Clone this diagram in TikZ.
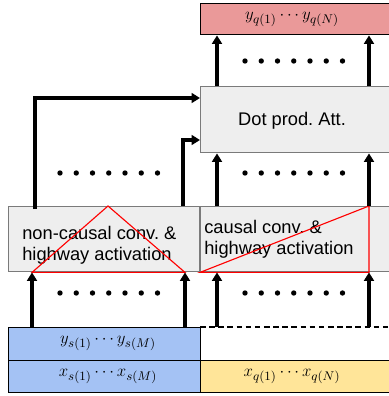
\documentclass[tikz,border=0pt]{standalone}
\usepackage{amsmath,amssymb}
\usepackage{fontspec}
\setsansfont{Liberation Sans}
\usepackage{xcolor}
\usepackage{tikz}
\usetikzlibrary{calc,arrows.meta}
\definecolor{outred}{HTML}{EA9999}
\definecolor{layergray}{HTML}{EEEEEE}
\definecolor{layeredge}{HTML}{7A7A7A}
\definecolor{srcblue}{HTML}{A4C2F4}
\definecolor{qryyellow}{HTML}{FFE599}
\definecolor{tri}{HTML}{FF0000}
\tikzset{
  box/.style={draw=black, line width=1pt, inner sep=0pt, anchor=north west},
  layer/.style={box, draw=layeredge, fill=layergray},
  arr/.style={draw=black, line width=2.6pt, -{Triangle[length=6pt, width=7pt]}},
  rf/.style={draw=tri, line width=0.8pt, line join=miter},
  lab/.style={font=\sffamily\fontsize{13}{15}\selectfont, align=left, inner sep=0pt},
  mlab/.style={font=\fontsize{13}{15}\selectfont, inner sep=0pt},
}
\newcommand{\dotrow}[2]{%
  \foreach \k in {0,...,6} \fill (#1+\k*16.25,#2) circle (2.7);}

\begin{document}
\begin{tikzpicture}[x=0.025cm, y=-0.025cm]
  \useasboundingbox (0,0) rectangle (389,396);
  \clip (0,0) rectangle (389,396);
  % output and attention
  \node[box, fill=outred, minimum width=200*0.025cm, minimum height=31*0.025cm] (out) at (200,3) {};
  \node[mlab] (outtext) at (292,19) {$y_{q(1)}\cdots y_{q(N)}$};
  \node[layer, minimum width=200*0.025cm, minimum height=66*0.025cm] (att) at (200,86) {};
  \node[lab] (atttext) at (292,121) {Dot prod.\ Att.};
  % conv layers
  \node[layer, minimum width=191*0.025cm, minimum height=65*0.025cm] (lconv) at (8,206) {};
  \node[lab, anchor=west] (lconvtext) at (22,245) {non-causal conv.\ \&\\highway activation};
  \node[layer, minimum width=200*0.025cm, minimum height=65*0.025cm] (rconv) at (200,206) {};
  \node[lab, anchor=west] (rconvtext) at (204,239) {causal conv.\ \&\\highway activation};
  % receptive fields
  \draw[rf] ($(lconv.south west)+(24,0)$) -- ($(lconv.north west)+(100,0)$)
    -- ($(lconv.south west)+(177,0)$) -- cycle;
  \draw[rf] (rconv.south west) -- ($(rconv.north west)+(169,0)$)
    -- ($(rconv.south west)+(169,0)$) -- cycle;
  % inputs
  \node[box, fill=srcblue, minimum width=192*0.025cm, minimum height=33*0.025cm] (ys) at (8,327) {};
  \node[mlab] (ystext) at (108,343) {$y_{s(1)}\cdots y_{s(M)}$};
  \node[box, fill=srcblue, minimum width=192*0.025cm, minimum height=32*0.025cm] (xs) at (8,360) {};
  \node[mlab] (xstext) at (108,376) {$x_{s(1)}\cdots x_{s(M)}$};
  \node[box, fill=qryyellow, minimum width=200*0.025cm, minimum height=32*0.025cm] (xq) at (200,360) {};
  \node[mlab] (xqtext) at (292,376) {$x_{q(1)}\cdots x_{q(N)}$};
  \coordinate (qtop) at (200,327);
  \draw[line width=1pt, dash pattern=on 4pt off 2.5pt] (qtop) -- ++(200,0);
  % connections
  \draw[arr] ($(ys.north west)+(24,0)$) -- ($(lconv.south west)+(24,0)$);
  \draw[arr] ($(ys.north west)+(177,0)$) -- ($(lconv.south west)+(177,0)$);
  \draw[arr] ($(qtop)+(17,0)$) -- ($(rconv.south west)+(17,0)$);
  \draw[arr] ($(qtop)+(169,0)$) -- ($(rconv.south west)+(169,0)$);
  \draw[arr] ($(rconv.north west)+(17,0)$) -- ($(att.south west)+(17,0)$);
  \draw[arr] ($(rconv.north west)+(169,0)$) -- ($(att.south west)+(169,0)$);
  \draw[arr] ($(att.north west)+(17,0)$) -- ($(out.south west)+(17,0)$);
  \draw[arr] ($(att.north west)+(169,0)$) -- ($(out.south west)+(169,0)$);
  \draw[arr] ($(lconv.north west)+(27,3)$) |- ($(att.north west)+(0,12)$);
  \draw[arr] ($(lconv.north west)+(175,0)$) |- ($(att.north west)+(0,54)$);
  % dots
  \dotrow{245}{61}
  \dotrow{60}{173}
  \dotrow{245}{173}
  \dotrow{60}{293}
  \dotrow{245}{293}
\end{tikzpicture}
\end{document}
